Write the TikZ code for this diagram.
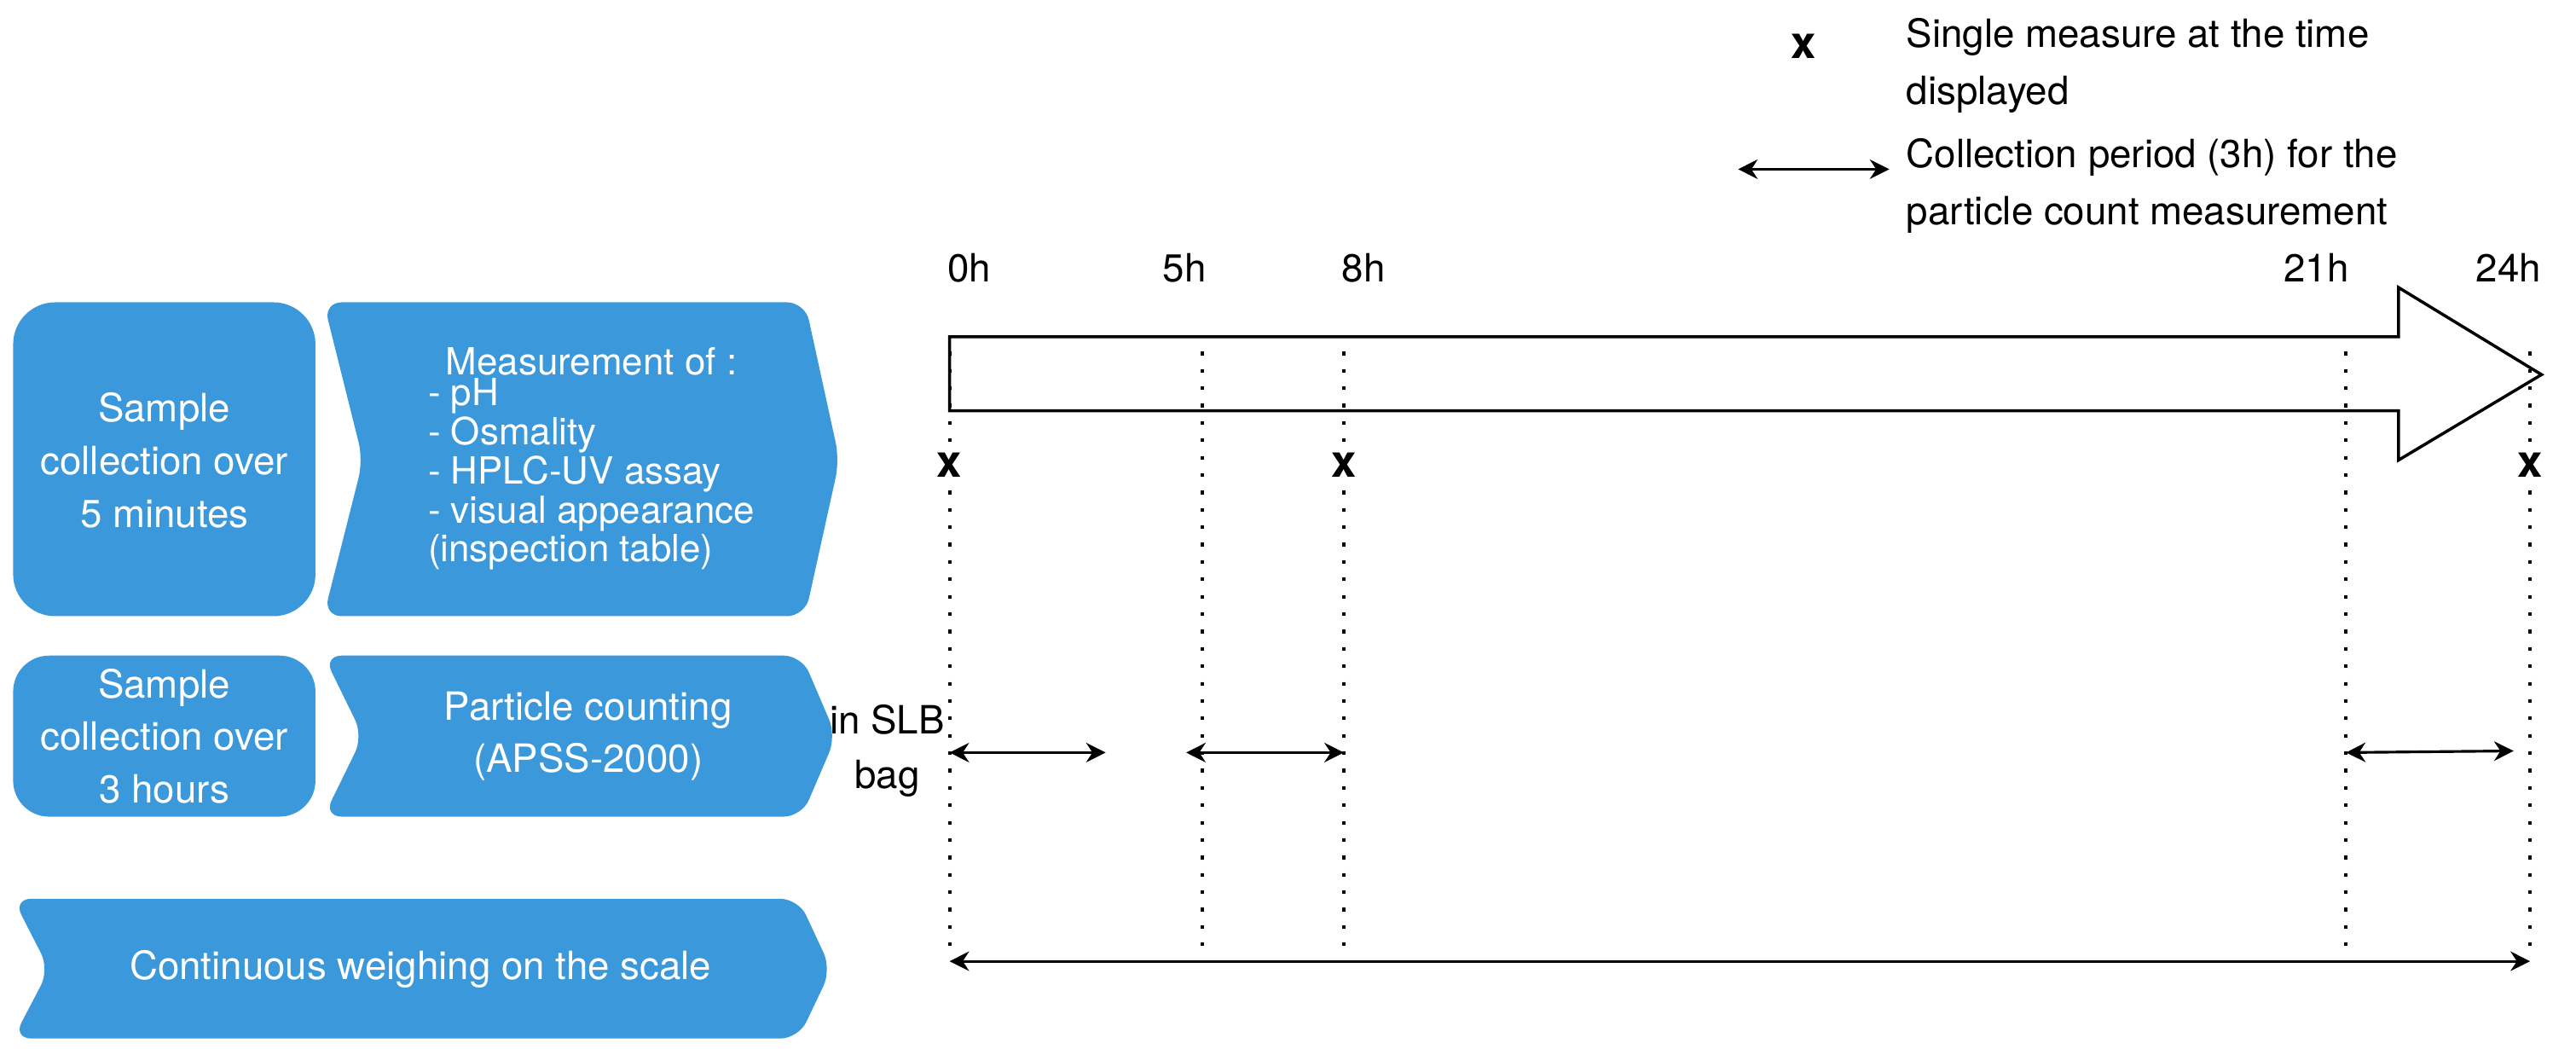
\documentclass[tikz,border=0pt]{standalone}
\usepackage{fontspec}
\setmainfont{TeX Gyre Heros}
\usetikzlibrary{arrows.meta}
\definecolor{bl}{RGB}{58,152,219}
\begin{document}
\begin{tikzpicture}[x=0.01927cm,y=-0.01927cm,
  fl/.style={fill=bl,draw=none,rounded corners=6pt},
  wt/.style={text=white,align=center,font=\fontsize{13}{17.6}\selectfont},
  bk/.style={text=black,align=left,font=\fontsize{13}{19}\selectfont},
  dl/.style={dash pattern=on 1.2pt off 4.6pt,line width=1.2pt},
  da/.style={{Stealth[length=6.5pt,width=6.5pt]}-{Stealth[length=6.5pt,width=6.5pt]},line width=0.9pt}]
\useasboundingbox (0,0) rectangle (1568,638);
% left boxes
\fill[fl,rounded corners=14pt] (8,184) rectangle (192,375);
\node[wt] (b1) at (100,280) {Sample\\collection over\\5 minutes};
\fill[fl] (197,184) -- (490,184) -- (511,280) -- (490,375) -- (197,375) -- (221,280) -- cycle;
\node[wt,font=\fontsize{12.5}{12.7}\selectfont] (c1) at (360,280) {Measurement of :\\\begin{tabular}{@{}l@{}}- pH\\- Osmality\\- HPLC-UV assay\\- visual appearance\\(inspection table)\end{tabular}};
\fill[fl,rounded corners=12pt] (8,399) rectangle (192,497);
\node[wt] (b2) at (100,448) {Sample\\collection over\\3 hours};
\fill[fl] (197,399) -- (488,399) -- (509,448) -- (488,497) -- (197,497) -- (221,448) -- cycle;
\node[wt] (c2) at (358,448) {Particle counting\\(APSS-2000)};
\fill[fl] (8,547) -- (486,547) -- (506,590) -- (486,632) -- (8,632) -- (30,590) -- cycle;
\node[wt] (c3) at (256,590) {Continuous weighing on the scale};
% timeline arrow
\draw[line width=1pt,fill=white] (578,205) -- (1460,205) -- (1460,175) -- (1547,228) -- (1460,280) -- (1460,250) -- (578,250) -- cycle;
% dotted verticals
\foreach \n/\x in {t0/578,t5/732,t8/818,t21/1428,t24/1540}{
  \coordinate (\n a) at (\x,214);
  \coordinate (\n b) at (\x,582);
  \draw[dl] (\n a) -- (\n b);
}
% hour labels
\node[bk] (l0) at (590,163) {0h};
\node[bk] (l5) at (721,163) {5h};
\node[bk] (l8) at (830,163) {8h};
\node[bk] (l21) at (1410,163) {21h};
\node[bk] (l24) at (1527,163) {24h};
% x markers
\foreach \n/\x in {x0/578,x8/818,x24/1540}{
  \node[font=\bfseries\fontsize{15}{15}\selectfont,fill=white,inner sep=0.5pt] (\n) at (\x,283) {x};
}
% collection arrows
\coordinate (a1) at (578,458); \coordinate (a2) at (673,458);
\coordinate (a3) at (722,458); \coordinate (a4) at (818,458);
\coordinate (a5) at (1428,458); \coordinate (a6) at (1530,457);
\draw[da] (a1) -- (a2);
\draw[da] (a3) -- (a4);
\draw[da] (a5) -- (a6);
\coordinate (f1) at (578,585); \coordinate (f2) at (1540,585);
\draw[da] (f1) -- (f2);
\node[bk,align=center,font=\fontsize{13}{18}\selectfont] (slb) at (540,457) {in SLB\\bag};
% legend
\node[font=\bfseries\fontsize{15}{15}\selectfont] (lx) at (1098,28) {x};
\node[bk,anchor=west] (lt1) at (1154,40) {Single measure at the time\\displayed};
\coordinate (lg1) at (1058,103); \coordinate (lg2) at (1150,103);
\draw[da] (lg1) -- (lg2);
\node[bk,anchor=west] (lt2) at (1154,113) {Collection period (3h) for the\\particle count measurement};
\end{tikzpicture}
\end{document}
